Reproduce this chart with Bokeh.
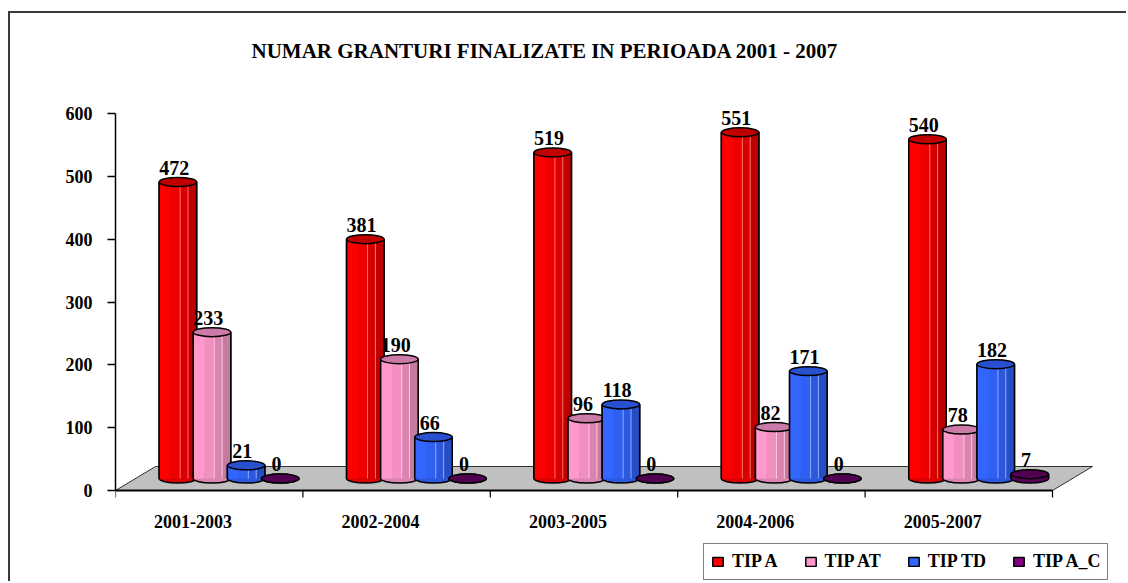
from bokeh.plotting import figure
from bokeh.models import Range1d, FixedTicker, Legend, LegendItem, ColumnDataSource
from bokeh.core.properties import value
from bokeh.embed import file_html
from bokeh.resources import INLINE

# ---------------- data ----------------
categories = ["2001-2003", "2002-2004", "2003-2005", "2004-2006", "2005-2007"]
series_names = ["TIP A", "TIP AT", "TIP TD", "TIP A_C"]
tip_a = [472, 381, 519, 551, 540]
tip_at = [233, 190, 96, 82, 78]
tip_td = [21, 66, 118, 171, 182]
tip_a_c = [0, 0, 0, 0, 7]
y_ticks = [0, 100, 200, 300, 400, 500, 600]
title_text = "NUMAR GRANTURI FINALIZATE IN PERIOADA 2001 - 2007"

series_values = [tip_a, tip_at, tip_td, tip_a_c]

# ---------------- styles ----------------
FONT = value("Liberation Serif")
# light, mid-light, mid, dark, top, highlight, legend
palettes = [
    ("#FF0000", "#EE0000", "#D80000", "#BE0000", "#C00000", "#FF7070", "#FF0000"),
    ("#FF99CC", "#F08FC0", "#DA84B0", "#C57AA0", "#CC7AA8", "#FFC8E3", "#FF99CC"),
    ("#3366FF", "#2F60F2", "#2B58DD", "#264EC4", "#2850CF", "#8FAAFF", "#3366FF"),
    ("#660066", "#600060", "#580058", "#4E004E", "#520052", "#9A4C9A", "#800080"),
]

PX_PER_X = 187.4        # pixels per category
PX_PER_Y = 377.0 / 600  # pixels per value unit
BASE = 19.0             # depth offset of bar bottoms (value units)
BAR_W = 0.2
SLOT0 = 0.333
SLOT_STEP = 0.182
ELL_H = 9.0 / PX_PER_Y
LABEL_GAP = 23.0
DEPTH_X = 40.0 / PX_PER_X
DEPTH_Y = 24.0 / PX_PER_Y

W, H = 1118, 570
LEFT = 105
x_end = (W - LEFT) / PX_PER_X
y_start = -(583 - 490) / PX_PER_Y
y_end = 600 + (113 - 13) / PX_PER_Y

p = figure(width=W, height=H, output_backend="svg", toolbar_location=None,
           x_range=Range1d(0, x_end), y_range=Range1d(y_start, y_end),
           x_axis_location=None, y_axis_location="left",
           min_border_left=LEFT, min_border_right=0, min_border_top=0, min_border_bottom=0)
p.styles = {"margin-top": "11px", "margin-left": "8px",
            "border-top": "2px solid #3a3a3a", "border-left": "2px solid #3a3a3a"}
p.outline_line_color = None
p.grid.visible = False
p.background_fill_color = "white"
p.border_fill_color = "white"

ax = p.yaxis[0]
ax.ticker = FixedTicker(ticks=y_ticks)
ax.bounds = (min(y_ticks), max(y_ticks))
ax.axis_line_color = "black"
ax.axis_line_width = 1.5
ax.major_tick_line_color = "black"
ax.major_tick_line_width = 1.5
ax.major_tick_out = 8
ax.major_tick_in = 0
ax.minor_tick_line_color = None
ax.major_label_text_font = "Liberation Serif"
ax.major_label_text_font_style = "bold"
ax.major_label_text_font_size = "18px"
ax.major_label_text_color = "black"
ax.major_label_standoff = 15

n = len(categories)

# floor
p.patch([0, DEPTH_X, n + DEPTH_X, n], [0, DEPTH_Y, DEPTH_Y, 0],
        fill_color="#C0C0C0", line_color="#303030", line_width=1)
p.line([0, n], [0, 0], line_color="black", line_width=1.8)
bx = list(range(n + 1))
p.segment(x0=bx, y0=[0] * len(bx), x1=bx, y1=[-7 / PX_PER_Y] * len(bx),
          line_color="black", line_width=1.2)

# title
p.text(x=[(544.5 - 115) / PX_PER_X], y=[(490 - 50) / PX_PER_Y], text=[title_text],
       text_font=FONT, text_font_style="bold", text_font_size="21px",
       text_align="center", text_baseline="alphabetic", text_color="black")

# category labels
p.text(x=[i + 0.414 for i in range(n)], y=[-(521 - 490) / PX_PER_Y] * n, text=categories,
       text_font=FONT, text_font_style="bold", text_font_size="18px",
       text_align="center", text_baseline="alphabetic", text_color="black")

legend_items = []
for j, (name, vals) in enumerate(zip(series_names, series_values)):
    light, mlight, mid, dark, top, hi, leg = palettes[j]
    xc = [i + SLOT0 + j * SLOT_STEP for i in range(n)]
    tops = [BASE + v for v in vals]
    src = ColumnDataSource(dict(x=xc, top=tops, bottom=[BASE] * n, v=vals))
    # full bar (outline + legend glyph)
    r = p.vbar(x="x", width=BAR_W, top="top", bottom="bottom", source=src,
               fill_color=leg, line_color="black", line_width=1.5)
    legend_items.append(LegendItem(label=name, renderers=[r]))
    # bottom cap
    p.ellipse(x="x", y="bottom", width=BAR_W, height=ELL_H, source=src,
              fill_color=mid, line_color="black", line_width=1.5)
    # face strips (fractions of width)
    strips = [(0.0, 0.3, light), (0.3, 0.56, mlight), (0.56, 0.77, mid), (0.77, 1.0, dark)]
    for a, b, col in strips:
        sx = [c - BAR_W / 2 + BAR_W * (a + b) / 2 for c in xc]
        p.vbar(x=sx, width=BAR_W * (b - a) + 0.001, top=tops, bottom=[BASE] * n,
               fill_color=col, line_color=None)
    # highlights
    for f in (0.56, 0.77):
        hx = [c - BAR_W / 2 + BAR_W * f for c in xc]
        p.segment(x0=hx, y0=[BASE] * n, x1=hx, y1=tops, line_color=hi, line_width=1)
    # edges
    for sgn in (-1, 1):
        ex = [c + sgn * BAR_W / 2 for c in xc]
        p.segment(x0=ex, y0=[BASE] * n, x1=ex, y1=tops, line_color="black", line_width=1.5)
    # top cap
    p.ellipse(x="x", y="top", width=BAR_W, height=ELL_H, source=src,
              fill_color=top, line_color="black", line_width=1.5)
    # value labels
    p.text(x=[c - 0.02 for c in xc], y=[t + LABEL_GAP for t in tops], text=[str(v) for v in vals],
           text_font=FONT, text_font_style="bold", text_font_size="20px",
           text_align="center", text_baseline="alphabetic", text_color="black")

legend = Legend(items=legend_items, orientation="horizontal", location=(588, 3),
                glyph_width=13, glyph_height=11, label_standoff=8, spacing=26,
                padding=7, margin=0, border_line_color="black", border_line_width=1,
                background_fill_color="white", background_fill_alpha=1,
                label_text_font="Liberation Serif", label_text_font_style="bold",
                label_text_font_size="18px", label_text_color="black")
p.add_layout(legend)

open("out.html", "w").write(file_html(p, INLINE))
